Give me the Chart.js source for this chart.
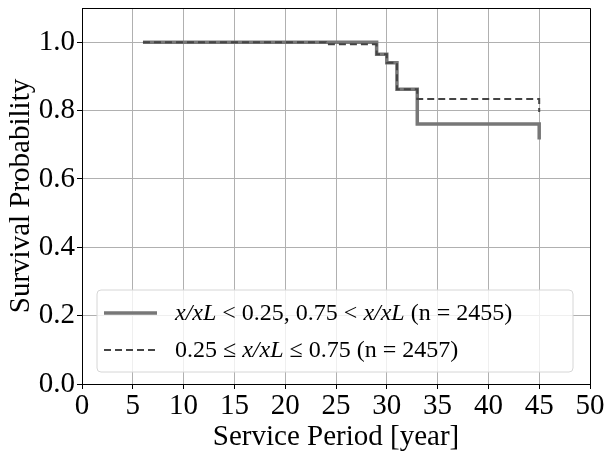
<!DOCTYPE html>
<html lang="en">
<head>
<meta charset="utf-8">
<title>Survival Probability</title>
<script src="https://cdn.jsdelivr.net/npm/chart.js@4.4.0/dist/chart.umd.min.js"></script>
<style>
  html, body { margin: 0; padding: 0; background: #fff; }
  #wrap { width: 604px; height: 457px; }
</style>
</head>
<body>
<div id="wrap"><canvas id="chart" width="604" height="457"></canvas></div>
<script>
// service period [year] where the survival curve steps, and the value after each step
const outerX = [6, 29, 30, 31, 33, 45];
const outerY = [1.0, 0.965, 0.94, 0.862, 0.761, 0.715];
const middleX = [6, 24, 29, 30, 31, 33, 45];
const middleY = [1.0, 0.994, 0.965, 0.94, 0.862, 0.834, 0.796];

// legend text, split into [text, italic?] pieces
const outerLabel = [['x/xL', true], [' < 0.25, 0.75 < ', false], ['x/xL', true], [' (n = 2455)', false]];
const middleLabel = [['0.25 \u2264 ', false], ['x/xL', true], [' \u2264 0.75 (n = 2457)', false]];

const xTicks = [0, 5, 10, 15, 20, 25, 30, 35, 40, 45, 50];
const yTicks = [0.0, 0.2, 0.4, 0.6, 0.8, 1.0];

const FONT = "'Liberation Serif', 'DejaVu Serif', serif";

function pts(xs, ys) {
  return xs.map((x, i) => ({ x: x, y: ys[i] }));
}

// top and right spines
const frame = {
  id: 'frame',
  afterDatasetsDraw(chart) {
    const c = chart.ctx, a = chart.chartArea;
    c.save();
    c.strokeStyle = '#000';
    c.lineWidth = 1;
    c.beginPath();
    c.moveTo(a.left, a.top + 0.5);
    c.lineTo(a.right + 0.5, a.top + 0.5);
    c.lineTo(a.right + 0.5, a.bottom);
    c.stroke();
    c.restore();
  }
};

// legend drawn by hand so the math parts can be italic
const mathLegend = {
  id: 'mathLegend',
  afterDraw(chart) {
    const ctx = chart.ctx;
    const a = chart.chartArea;
    const bx = a.left + 15, by = a.top + 282, bw = 476, bh = 82;
    ctx.save();
    ctx.beginPath();
    ctx.roundRect(bx, by, bw, bh, 4);
    ctx.fillStyle = 'rgba(255,255,255,0.8)';
    ctx.fill();
    ctx.strokeStyle = '#d6d6d6';
    ctx.lineWidth = 1;
    ctx.stroke();
    const rows = [
      { ds: chart.data.datasets[0], label: outerLabel, y: by + 23 },
      { ds: chart.data.datasets[1], label: middleLabel, y: by + 60 }
    ];
    rows.forEach(r => {
      ctx.beginPath();
      ctx.setLineDash(r.ds.borderDash || []);
      ctx.strokeStyle = r.ds.borderColor;
      ctx.lineWidth = r.ds.borderWidth;
      ctx.moveTo(bx + 7, r.y);
      ctx.lineTo(bx + 60, r.y);
      ctx.stroke();
      ctx.setLineDash([]);
      let tx = bx + 78;
      ctx.fillStyle = '#000';
      ctx.textBaseline = 'middle';
      r.label.forEach(([t, it]) => {
        ctx.font = (it ? 'italic ' : '') + '24px ' + FONT;
        ctx.fillText(t, tx, r.y + 1);
        tx += ctx.measureText(t).width;
      });
    });
    ctx.restore();
  }
};

const ctx = document.getElementById('chart').getContext('2d');
new Chart(ctx, {
  type: 'line',
  data: {
    datasets: [
      {
        label: 'outer',
        data: pts(outerX, outerY),
        borderColor: '#777777',
        borderWidth: 3.5,
        stepped: 'before',
        pointRadius: 0,
        fill: false,
        order: 1
      },
      {
        label: 'middle',
        data: pts(middleX, middleY),
        borderColor: '#444444',
        borderWidth: 2,
        borderDash: [7, 4],
        stepped: 'before',
        pointRadius: 0,
        fill: false,
        order: 0
      }
    ]
  },
  options: {
    responsive: false,
    animation: false,
    layout: { padding: { top: 8, right: 14, left: 0, bottom: 0 } },
    plugins: { legend: { display: false }, tooltip: { enabled: false } },
    scales: {
      x: {
        type: 'linear',
        min: 0, max: 50,
        afterBuildTicks: s => { s.ticks = xTicks.map(v => ({ value: v })); },
        afterFit: s => { s.height = 73; s.paddingLeft = 0; s.paddingRight = 0; },
        grid: { color: '#b0b0b0', tickColor: '#000', tickLength: 5, lineWidth: 1 },
        border: { color: '#000', width: 1 },
        ticks: { color: '#000', font: { family: FONT, size: 29 }, padding: 0, maxRotation: 0 },
        title: { display: true, text: 'Service Period [year]', color: '#000', font: { family: FONT, size: 29 }, padding: { top: 0, bottom: 2 } }
      },
      y: {
        type: 'linear',
        min: 0, max: 1.1,
        afterBuildTicks: s => { s.ticks = yTicks.map(v => ({ value: v })); },
        afterFit: s => { s.width = 82; s.paddingTop = 0; s.paddingBottom = 0; },
        grid: { color: '#b0b0b0', tickColor: '#000', tickLength: 5, lineWidth: 1 },
        border: { color: '#000', width: 1 },
        ticks: { color: '#000', font: { family: FONT, size: 29 }, padding: 2, callback: v => v.toFixed(1) },
        title: { display: true, text: 'Survival Probability', color: '#000', font: { family: FONT, size: 29 }, padding: { top: 4, bottom: 0 } }
      }
    }
  },
  plugins: [frame, mathLegend]
});
</script>
</body>
</html>
